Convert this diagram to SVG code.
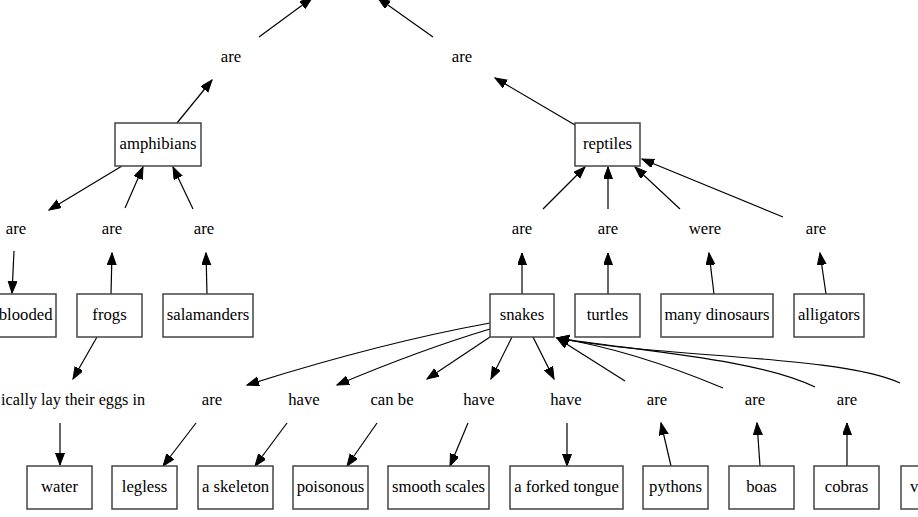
<svg xmlns="http://www.w3.org/2000/svg" width="918" height="517" viewBox="0 0 918 517">
<defs>
<marker id="ah" markerUnits="userSpaceOnUse" markerWidth="14" markerHeight="10" refX="12" refY="4.5" orient="auto">
<path d="M0,0 L12,4.5 L0,9 z" fill="#000" stroke="#000" stroke-width="1"/>
</marker>
<style>
text{font-family:"Liberation Serif","Times New Roman",serif;font-size:16.7px;fill:#000;text-anchor:middle}
.b{fill:#fff;stroke:#444;stroke-width:1.5}
#edges path{fill:none;stroke:#000;stroke-width:1.2;marker-end:url(#ah)}
</style>
</defs>
<rect width="918" height="517" fill="#fff"/>
<g id="edges">
<path d="M259,37 L312,-2"/>
<path d="M433,37 L378,-2"/>
<path d="M177,123 L212,80"/>
<path d="M575,125 L495,78"/>
<path d="M122,166 L49,210"/>
<path d="M125,208 L143,167"/>
<path d="M193,209 L173,167"/>
<path d="M14,251 L12,293"/>
<path d="M111,294 L112,253"/>
<path d="M207,294 L206,253"/>
<path d="M97,337 L73,379"/>
<path d="M60,423 L60,465"/>
<path d="M543,209 L585,167"/>
<path d="M608,209 L608,167"/>
<path d="M680,209 L635,167"/>
<path d="M783,217 L642,159"/>
<path d="M522,294 L522,253"/>
<path d="M608,294 L608,253"/>
<path d="M714,294 L709,253"/>
<path d="M826,294 L820,253"/>
<path d="M490,323 Q380,343 247,385"/>
<path d="M490,329 Q420,350 337,385"/>
<path d="M490,337 L427,379"/>
<path d="M512,337 L491,379"/>
<path d="M533,337 L554,379"/>
<path d="M625,381 L557,338"/>
<path d="M723,388 C680,370 620,348 557,338"/>
<path d="M815,387 C760,360 650,352 557,338"/>
<path d="M900,383 C840,355 660,358 557,338"/>
<path d="M196,423 L163,466"/>
<path d="M287,423 L255,466"/>
<path d="M377,423 L347,466"/>
<path d="M468,423 L450,466"/>
<path d="M567,423 L567,466"/>
<path d="M671,466 L661,423"/>
<path d="M760,466 L757,423"/>
<path d="M847,466 L847,423"/>
</g>
<g id="are_top1"><text x="231" y="62">are</text></g>
<g id="are_top2"><text x="462" y="62">are</text></g>
<g id="amphibians"><rect class="b" x="115" y="123" width="86" height="43"/><text x="158" y="149">amphibians</text></g>
<g id="reptiles"><rect class="b" x="575" y="123" width="65" height="43"/><text x="607.5" y="149">reptiles</text></g>
<g id="are_a1"><text x="16" y="234">are</text></g>
<g id="are_a2"><text x="112" y="234">are</text></g>
<g id="are_a3"><text x="204" y="234">are</text></g>
<g id="are_r1"><text x="522" y="234">are</text></g>
<g id="are_r2"><text x="608" y="234">are</text></g>
<g id="were_r3"><text x="705" y="234">were</text></g>
<g id="are_r4"><text x="816" y="234">are</text></g>
<g id="blooded"><rect class="b" x="-40" y="294" width="96" height="43"/><text x="52.5" y="320" style="text-anchor:end">blooded</text></g>
<g id="frogs"><rect class="b" x="77" y="294" width="65" height="43"/><text x="109.5" y="320">frogs</text></g>
<g id="salamanders"><rect class="b" x="163" y="294" width="90" height="43"/><text x="208" y="320">salamanders</text></g>
<g id="snakes"><rect class="b" x="490" y="294" width="64" height="43"/><text x="522" y="320">snakes</text></g>
<g id="turtles"><rect class="b" x="575" y="294" width="65" height="43"/><text x="607.5" y="320">turtles</text></g>
<g id="many_dinosaurs"><rect class="b" x="661" y="294" width="112" height="43"/><text x="717" y="320">many dinosaurs</text></g>
<g id="alligators"><rect class="b" x="794" y="294" width="70" height="43"/><text x="829" y="320">alligators</text></g>
<g id="lay_eggs"><text x="1" y="405" style="text-anchor:start" textLength="144" lengthAdjust="spacingAndGlyphs">ically lay their eggs in</text></g>
<g id="are_s1"><text x="212" y="405">are</text></g>
<g id="have_s2"><text x="304" y="405">have</text></g>
<g id="canbe_s3"><text x="392" y="405">can be</text></g>
<g id="have_s4"><text x="479" y="405">have</text></g>
<g id="have_s5"><text x="566" y="405">have</text></g>
<g id="are_s6"><text x="657" y="405">are</text></g>
<g id="are_s7"><text x="755" y="405">are</text></g>
<g id="are_s8"><text x="847" y="405">are</text></g>
<g id="water"><rect class="b" x="27" y="466" width="65" height="43"/><text x="59.5" y="492">water</text></g>
<g id="legless"><rect class="b" x="112" y="466" width="65" height="43"/><text x="144.5" y="492">legless</text></g>
<g id="a_skeleton"><rect class="b" x="198" y="466" width="75" height="43"/><text x="235.5" y="492">a skeleton</text></g>
<g id="poisonous"><rect class="b" x="293" y="466" width="75" height="43"/><text x="330.5" y="492">poisonous</text></g>
<g id="smooth_scales"><rect class="b" x="388" y="466" width="101" height="43"/><text x="438.5" y="492">smooth scales</text></g>
<g id="forked_tongue"><rect class="b" x="510" y="466" width="113" height="43"/><text x="566.5" y="492">a forked tongue</text></g>
<g id="pythons"><rect class="b" x="643" y="466" width="65" height="43"/><text x="675.5" y="492">pythons</text></g>
<g id="boas"><rect class="b" x="729" y="466" width="65" height="43"/><text x="761.5" y="492">boas</text></g>
<g id="cobras"><rect class="b" x="814" y="466" width="65" height="43"/><text x="846.5" y="492">cobras</text></g>
<g id="v_node"><rect class="b" x="901" y="466" width="65" height="43"/><text x="910" y="492" style="text-anchor:start">v</text></g>
</svg>
